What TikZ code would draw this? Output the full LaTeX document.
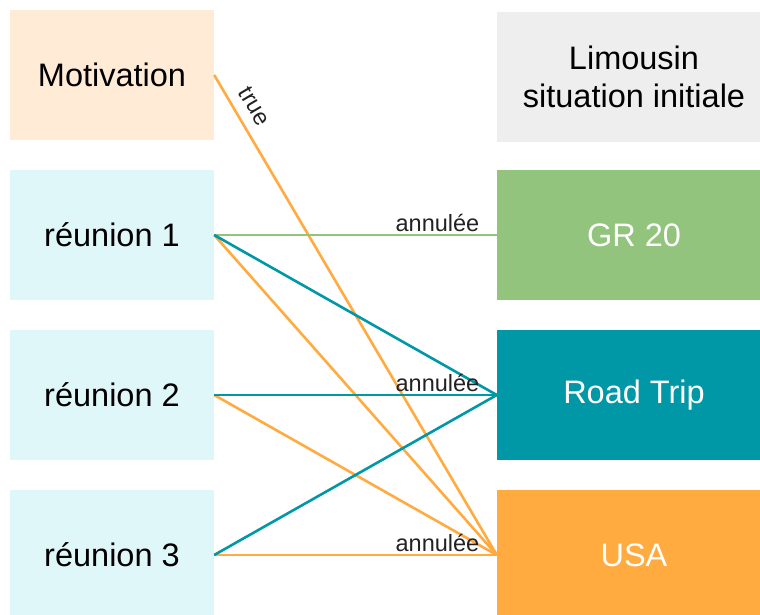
\documentclass[tikz,border=0pt]{standalone}
\usepackage{fontspec}
\setmainfont{Liberation Sans}
\definecolor{peach}{HTML}{FFEBD6}
\definecolor{lightcyan}{HTML}{E0F7FA}
\definecolor{lightgrey}{HTML}{EEEEEE}
\definecolor{grgreen}{HTML}{93C47D}
\definecolor{teal}{HTML}{0097A7}
\definecolor{usaorange}{HTML}{FFAB40}
\definecolor{labelgrey}{HTML}{222222}
\begin{document}
\begin{tikzpicture}[x=1pt,y=-1pt,
  leftbox/.style={rectangle, minimum width=204pt, minimum height=130pt, inner sep=0pt, font=\fontsize{32.5}{38}\selectfont, align=center},
  rightbox/.style={rectangle, minimum width=274pt, minimum height=130pt, inner sep=0pt, font=\fontsize{32.5}{38}\selectfont, align=center},
  link/.style={line width=2.6pt},
  lbl/.style={font=\fontsize{23.5}{28}\selectfont, text=labelgrey, inner sep=2pt}]
\useasboundingbox (0,0) rectangle (760,615);
\clip (0,0) rectangle (760,615);
\node[leftbox, fill=peach] (mot) at (112,75) {Motivation};
\node[leftbox, fill=lightcyan] (r1) at (112,235) {réunion 1};
\node[leftbox, fill=lightcyan] (r2) at (112,395) {réunion 2};
\node[leftbox, fill=lightcyan] (r3) at (112,555) {réunion 3};
\node[rightbox, fill=lightgrey] (lim) at (634,77) {Limousin\\situation initiale};
\node[rightbox, fill=grgreen, text=white] (gr) at (634,235) {GR 20};
\node[rightbox, fill=teal, text=white] (rt) at (634,395) {Road Trip};
\node[rightbox, fill=usaorange, text=white] (usa) at (634,555) {USA};
\draw[link, usaorange] (mot.east) -- node[lbl, sloped, above=8pt, pos=0.085] {true} (usa.west);
\draw[link, usaorange] (r1.east) -- (usa.west);
\draw[link, usaorange] (r2.east) -- (usa.west);
\draw[link, usaorange] (r3.east) -- node[lbl, above, pos=0.79] {annulée} (usa.west);
\draw[link, grgreen] (r1.east) -- node[lbl, above, pos=0.79] {annulée} (gr.west);
\draw[link, teal] (r1.east) -- (rt.west);
\draw[link, teal] (r2.east) -- node[lbl, above, pos=0.79] {annulée} (rt.west);
\draw[link, teal] (r3.east) -- (rt.west);
\end{tikzpicture}
\end{document}
